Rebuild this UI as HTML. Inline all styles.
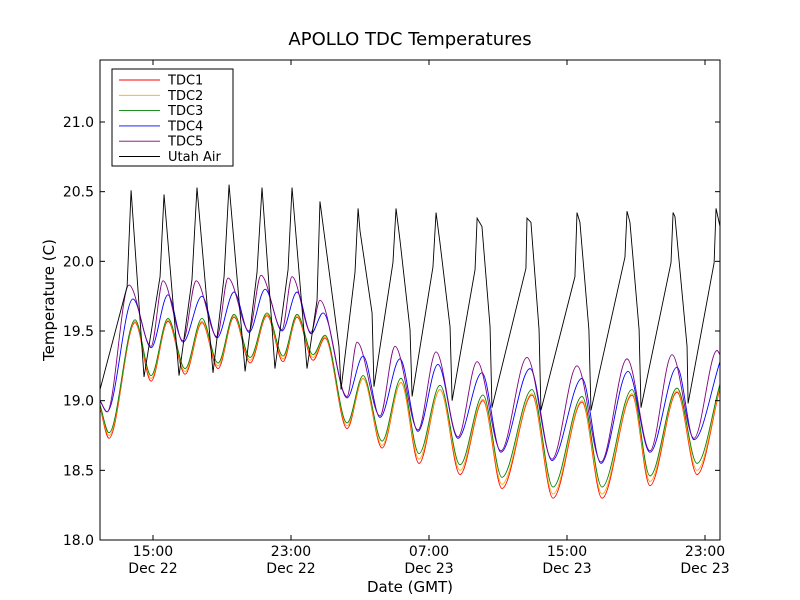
<!DOCTYPE html>
<html><head><meta charset="utf-8"><style>
body{margin:0;background:#fff;}
svg{display:block;font-family:"DejaVu Sans","Liberation Sans",sans-serif;}
</style></head><body>
<svg id="chart" width="800" height="600" viewBox="0 0 800 600">
<rect x="0" y="0" width="800" height="600" fill="#fff"/>
<text x="410" y="45" text-anchor="middle" font-size="18">APOLLO TDC Temperatures</text>
<defs><clipPath id="pc"><rect x="100" y="60" width="620" height="480"/></clipPath></defs>
<g id="series" clip-path="url(#pc)"></g>
<rect x="100" y="60" width="620" height="480" fill="none" stroke="#000" stroke-width="1"/>
<g id="axes"></g>
<text x="410" y="592" text-anchor="middle" font-size="15">Date (GMT)</text>
<text x="54" y="300" text-anchor="middle" font-size="15" transform="rotate(-90 54 300)">Temperature (C)</text>
<g id="legend"></g>
</svg>
<script>
const yTicks=[18.0,18.5,19.0,19.5,20.0,20.5,21.0];
const xTickHours=[15,23,31,39,47];
const xTickTimes=["15:00","23:00","07:00","15:00","23:00"];
const xTickDates=["Dec 22","Dec 22","Dec 23","Dec 23","Dec 23"];
const seriesNames=["TDC1","TDC2","TDC3","TDC4","TDC5","Utah Air"];
const seriesColors=["red","orange","green","blue","purple","black"];

const tdcTimes=[11.93,12.45,13.96,14.89,15.87,16.86,17.84,18.77,19.70,20.63,21.61,22.54,23.35,24.28,24.97,26.25,27.18,28.28,29.38,30.42,31.64,32.80,34.13,35.23,36.97,38.19,39.87,41.03,42.77,43.81,45.38,46.54,47.87];
const tdc1=[18.95,18.73,19.56,19.14,19.57,19.19,19.56,19.23,19.60,19.27,19.61,19.28,19.60,19.29,19.45,18.80,19.16,18.66,19.13,18.55,19.08,18.47,19.00,18.37,19.04,18.30,18.99,18.30,19.04,18.39,19.06,18.47,19.09];
const tdc2=[18.96,18.75,19.57,19.16,19.58,19.21,19.57,19.25,19.61,19.29,19.62,19.30,19.61,19.31,19.46,18.82,19.16,18.68,19.13,18.58,19.08,18.50,19.01,18.40,19.05,18.33,19.00,18.33,19.05,18.42,19.07,18.50,19.10];
const tdc3=[18.97,18.77,19.58,19.18,19.59,19.23,19.59,19.27,19.62,19.31,19.63,19.32,19.62,19.33,19.47,18.84,19.18,18.71,19.16,18.62,19.11,18.54,19.04,18.45,19.08,18.38,19.03,18.38,19.08,18.46,19.09,18.55,19.12];
const tdc4Times=[11.93,12.34,13.84,14.89,15.87,16.74,17.84,18.71,19.70,20.57,21.50,22.48,23.35,24.16,24.86,26.25,27.18,28.16,29.32,30.36,31.52,32.68,34.07,35.17,36.86,38.13,39.87,40.97,42.54,43.81,45.38,46.36,47.87];
const tdc4=[19.0,18.92,19.73,19.38,19.76,19.42,19.75,19.45,19.78,19.49,19.80,19.50,19.78,19.48,19.63,19.02,19.32,18.88,19.30,18.78,19.26,18.73,19.20,18.63,19.23,18.57,19.16,18.55,19.21,18.63,19.24,18.72,19.28];
const tdc5Times=[11.93,12.34,13.61,14.89,15.58,16.74,17.50,18.71,19.35,20.57,21.26,22.48,23.06,24.16,24.68,26.25,26.83,28.16,29.03,30.36,31.41,32.68,33.79,35.17,36.68,38.13,39.58,40.97,42.48,43.81,45.09,46.36,47.70,47.87];
const tdc5=[19.0,18.92,19.83,19.39,19.86,19.43,19.86,19.46,19.88,19.50,19.90,19.51,19.89,19.49,19.72,19.03,19.42,18.89,19.39,18.79,19.35,18.74,19.28,18.64,19.31,18.58,19.25,18.56,19.30,18.64,19.33,18.73,19.36,19.33];
const airTimes=[11.93,13.50,13.73,14.48,15.41,15.64,16.51,17.26,17.55,18.48,19.12,19.41,20.34,21.03,21.32,22.07,22.83,23.06,23.93,24.51,24.68,25.78,25.90,26.71,26.89,27.00,27.70,27.81,28.91,29.09,29.32,29.90,30.02,31.23,31.41,31.64,32.22,32.34,33.67,33.79,34.07,34.54,34.65,36.62,36.68,36.91,37.38,37.49,39.46,39.58,39.75,40.27,40.39,42.36,42.48,42.65,43.18,43.29,45.03,45.15,45.26,45.96,46.02,47.53,47.64,47.87];
const air=[19.08,19.82,20.51,19.17,19.89,20.48,19.18,19.87,20.53,19.20,19.89,20.55,19.21,19.92,20.53,19.23,19.94,20.53,19.23,19.72,20.43,19.39,19.08,19.92,20.38,20.22,19.63,19.10,19.99,20.38,20.15,19.51,19.03,19.96,20.35,20.13,19.53,19.00,19.94,20.31,20.25,19.53,18.95,19.95,20.31,20.28,19.51,18.93,19.89,20.35,20.28,19.51,18.93,20.03,20.36,20.28,19.51,18.95,19.99,20.35,20.32,19.39,18.98,19.99,20.38,20.25];

const X0=100,X1=720,Y0=60,Y1=540;
const tMin=11.928,tMax=47.87,vMin=18.0,vMax=21.445;
function xs(t){return X0+(t-tMin)/(tMax-tMin)*(X1-X0);}
function ys(v){return Y1-(v-vMin)/(vMax-vMin)*(Y1-Y0);}
const NS="http://www.w3.org/2000/svg";
function mk(tag){return document.createElementNS(NS,tag);}

function monoPath(ts,vs){
  const px=ts.map(xs),py=vs.map(ys),n=px.length;
  const d=[],m=new Array(n);
  for(let i=0;i<n-1;i++)d.push((py[i+1]-py[i])/(px[i+1]-px[i]));
  m[0]=d[0];m[n-1]=d[n-2];
  for(let i=1;i<n-1;i++){m[i]=(d[i-1]*d[i]<=0)?0:(d[i-1]+d[i])/2;}
  let s="M"+px[0].toFixed(2)+","+py[0].toFixed(2);
  for(let i=0;i<n-1;i++){const h=(px[i+1]-px[i])/3;
    s+=" C"+(px[i]+h).toFixed(2)+","+(py[i]+m[i]*h).toFixed(2)+" "+(px[i+1]-h).toFixed(2)+","+(py[i+1]-m[i+1]*h).toFixed(2)+" "+px[i+1].toFixed(2)+","+py[i+1].toFixed(2);}
  return s;
}
function linPath(ts,vs){return ts.map((t,i)=>(i?"L":"M")+xs(t).toFixed(2)+","+ys(vs[i]).toFixed(2)).join(" ");}

const g=document.getElementById("series");
const defs=[[tdcTimes,tdc1,0,"tdc1-line"],[tdcTimes,tdc2,1,"tdc2-line"],[tdcTimes,tdc3,2,"tdc3-line"],[tdc4Times,tdc4,3,"tdc4-line"],[tdc5Times,tdc5,4,"tdc5-line"],[airTimes,air,5,"utah-air-line"]];
defs.forEach(([ts,vs,ci,name])=>{
  const p=mk("path");
  p.setAttribute("d",ci===5?linPath(ts,vs):monoPath(ts,vs));
  p.setAttribute("fill","none");p.setAttribute("stroke",seriesColors[ci]);p.setAttribute("stroke-width","0.9");
  
  
  g.appendChild(p);
});

const ax=document.getElementById("axes");
yTicks.forEach(v=>{
  const y=ys(v);
  [[X0,X0+5],[X1,X1-5]].forEach(([a,b])=>{const l=mk("line");l.setAttribute("x1",a);l.setAttribute("x2",b);l.setAttribute("y1",y);l.setAttribute("y2",y);l.setAttribute("stroke","#000");
    
    
    ax.appendChild(l);});
  const t=mk("text");t.setAttribute("x",94);t.setAttribute("y",y+5);t.setAttribute("text-anchor","end");t.setAttribute("font-size","14");t.textContent=v.toFixed(1);
  
  
  ax.appendChild(t);
});
xTickHours.forEach((h,i)=>{
  const x=xs(h);
  [[Y1,Y1-5],[Y0,Y0+5]].forEach(([a,b])=>{const l=mk("line");l.setAttribute("x1",x);l.setAttribute("x2",x);l.setAttribute("y1",a);l.setAttribute("y2",b);l.setAttribute("stroke","#000");
    
    
    ax.appendChild(l);});
  [[xTickTimes[i],556],[xTickDates[i],573]].forEach(([s,y])=>{const t=mk("text");t.setAttribute("x",x);t.setAttribute("y",y);t.setAttribute("text-anchor","middle");t.setAttribute("font-size","14");t.textContent=s;
    
    
    ax.appendChild(t);});
});

const lg=document.getElementById("legend");
const box=mk("rect");box.setAttribute("x",112);box.setAttribute("y",69);box.setAttribute("width",121);box.setAttribute("height",97);box.setAttribute("fill","#fff");box.setAttribute("stroke","#000");


lg.appendChild(box);
seriesNames.forEach((n,i)=>{
  const y=80+i*15.3;
  const l=mk("line");l.setAttribute("x1",119);l.setAttribute("x2",160);l.setAttribute("y1",y);l.setAttribute("y2",y);l.setAttribute("stroke",seriesColors[i]);l.setAttribute("stroke-width","0.9");
  
  
  lg.appendChild(l);
  const t=mk("text");t.setAttribute("x",168);t.setAttribute("y",y+4.5);t.setAttribute("font-size","13");t.textContent=n;
  
  
  lg.appendChild(t);
});
</script>
</body></html>
